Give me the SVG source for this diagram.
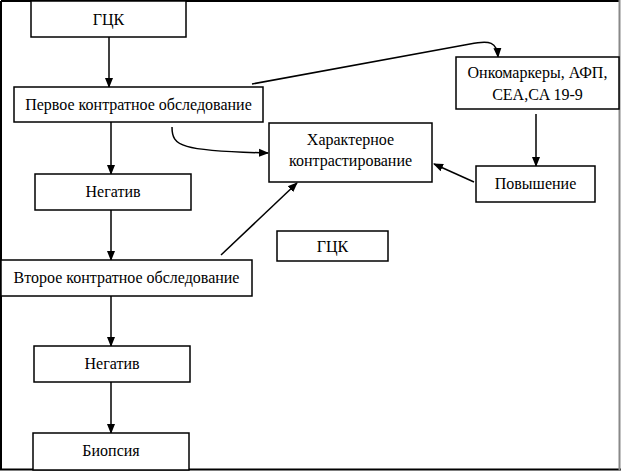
<svg xmlns="http://www.w3.org/2000/svg" width="621" height="471" viewBox="0 0 621 471">
<defs>
<marker id="ah" markerWidth="10" markerHeight="10" refX="9" refY="5" orient="auto" markerUnits="userSpaceOnUse">
<path d="M0,1 L10,5 L0,9 Z" fill="#000"/>
</marker>
<style>
.box{fill:#fff;stroke:#000;stroke-width:1.5}
.t{font-family:"Liberation Serif","Times New Roman",serif;font-size:16px;fill:#000;text-anchor:middle}
.c{fill:none;stroke:#000;stroke-width:1.5;marker-end:url(#ah)}
</style>
</defs>
<rect x="0" y="0" width="621" height="471" fill="#fff"/>
<g id="frame">
<line x1="1" y1="1" x2="620" y2="1" stroke="#000" stroke-width="2"/>
<line x1="1" y1="1" x2="1" y2="470" stroke="#000" stroke-width="2"/>
<line x1="0" y1="469.5" x2="621" y2="469.5" stroke="#000" stroke-width="2"/>
<line x1="619.5" y1="0" x2="619.5" y2="471" stroke="#888" stroke-width="2"/>
</g>
<g id="connectors">
<line class="c" x1="109" y1="37" x2="109" y2="87"/>
<line class="c" x1="111" y1="122" x2="111" y2="174"/>
<line class="c" x1="111" y1="210" x2="111" y2="260"/>
<line class="c" x1="111" y1="296" x2="111" y2="346"/>
<line class="c" x1="111" y1="382" x2="111" y2="433"/>
<path class="c" d="M172,127 C172,146 180,151 268,153"/>
<path class="c" d="M252,84 L470,44 C490,40 497,42 498,57"/>
<line class="c" x1="536" y1="114" x2="536" y2="166"/>
<line class="c" x1="474" y1="182" x2="434" y2="164"/>
<line class="c" x1="221" y1="255" x2="297" y2="183"/>
</g>
<g id="n1"><rect class="box" x="31" y="1" width="155" height="36"/><text class="t" x="108.5" y="25">ГЦК</text></g>
<g id="n2"><rect class="box" x="14" y="87" width="249" height="35"/><text class="t" x="138.5" y="110">Первое контратное обследование</text></g>
<g id="n3"><rect class="box" x="35" y="174" width="156" height="36"/><text class="t" x="113" y="197">Негатив</text></g>
<g id="n4"><rect class="box" x="1" y="260" width="251" height="36"/><text class="t" x="126.5" y="283">Второе контратное обследование</text></g>
<g id="n5"><rect class="box" x="34" y="346" width="156" height="36"/><text class="t" x="112" y="369">Негатив</text></g>
<g id="n6"><rect class="box" x="33" y="433" width="156" height="37"/><text class="t" x="111" y="456">Биопсия</text></g>
<g id="n7"><rect class="box" x="269" y="123" width="163" height="59"/><text class="t" x="350.5" y="145">Характерное</text><text class="t" x="350.5" y="166">контрастирование</text></g>
<g id="n8"><rect class="box" x="456" y="57" width="163" height="52"/><text class="t" x="537.5" y="78">Онкомаркеры, АФП,</text><text class="t" x="537.5" y="100">CEA,CA 19-9</text></g>
<g id="n9"><rect class="box" x="476" y="166" width="119" height="36"/><text class="t" x="535.5" y="189">Повышение</text></g>
<g id="n10"><rect class="box" x="277" y="231" width="111" height="30"/><text class="t" x="332.5" y="252">ГЦК</text></g>
</svg>
